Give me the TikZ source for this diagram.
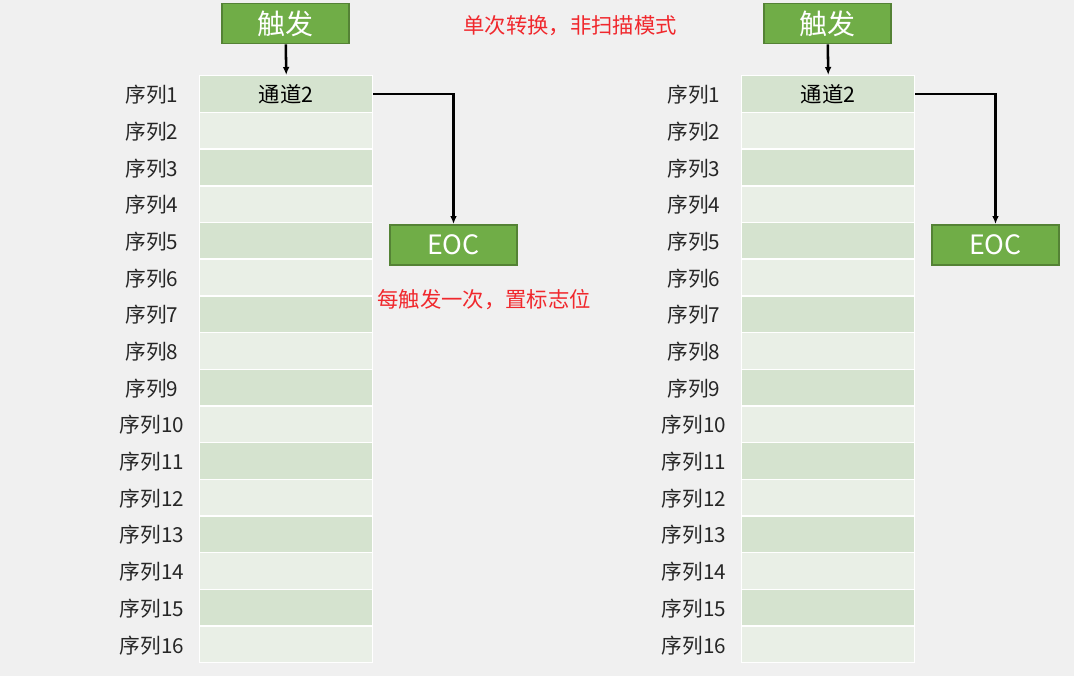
\documentclass[tikz,border=0pt]{standalone}
\usepackage{fontspec}
\setmainfont{Noto Sans CJK SC}
\usetikzlibrary{positioning,arrows.meta}
\definecolor{bggray}{HTML}{F0F0F0}
\definecolor{cellA}{HTML}{D5E3CF}
\definecolor{cellB}{HTML}{E9EFE6}
\definecolor{trigfill}{HTML}{70AD47}
\definecolor{trigline}{HTML}{548235}
\definecolor{notered}{HTML}{F0282D}
\colorlet{cell1}{cellA}
\colorlet{cell0}{cellB}

\tikzset{
  cell/.style={draw=white, line width=1.1pt, minimum width=129.75pt,
    minimum height=27.5pt, anchor=north west, inner sep=0pt,
    font=\fontsize{16}{16}\selectfont},
  greenbox/.style={fill=trigfill, draw=trigline, line width=1.4pt,
    text=white, minimum width=95pt, minimum height=30pt, inner sep=0pt},
  seqlabel/.style={font=\fontsize{15.5}{15.5}\selectfont, text=black!85},
  note/.style={text=notered, font=\fontsize{16}{16}\selectfont},
  flow/.style={-{Latex[length=6pt,width=5pt]}, line width=1.9pt}
}

\begin{document}
\begin{tikzpicture}[x=0.75pt, y=-0.75pt]
  % Fondo
  \fill[bggray] (0,0) rectangle (1074,676);
  \useasboundingbox (0,0) rectangle (1074,676);

  % Dos columnas de secuencias
  \foreach \s/\dx in {L/0, R/542} {
    \foreach \i [evaluate=\i as \c using {int(mod(\i,2))}] in {1,...,16} {
      \node[cell, fill=cell\c] (\s\i) at (199+\dx, {75+(\i-1)*36.69})
        {\ifnum\i=1 \textcolor{black}{通道2}\fi};
      \node[seqlabel] (\s lab\i) at (152+\dx, {94.8+(\i-1)*36.69}) {序列\i};
    }
    % Disparo y EOC
    \node[greenbox, font=\fontsize{21}{21}\selectfont] (\s trig) at (285.5+\dx, 23.5) {触发};
    \node[greenbox, font=\fontsize{20}{20}\selectfont, text depth=1pt] (\s eoc) at (453.5+\dx, 245) {EOC};
    \draw[flow] (\s trig) -- (\s1.north);
    \draw[flow] (\s1.east) -| (\s eoc.north);
  }

  % Notas
  \node[note] (modenote) at (570, 26) {单次转换，非扫描模式};
  \node[note] (flagnote) at (484, 300) {每触发一次，置标志位};
\end{tikzpicture}
\end{document}
